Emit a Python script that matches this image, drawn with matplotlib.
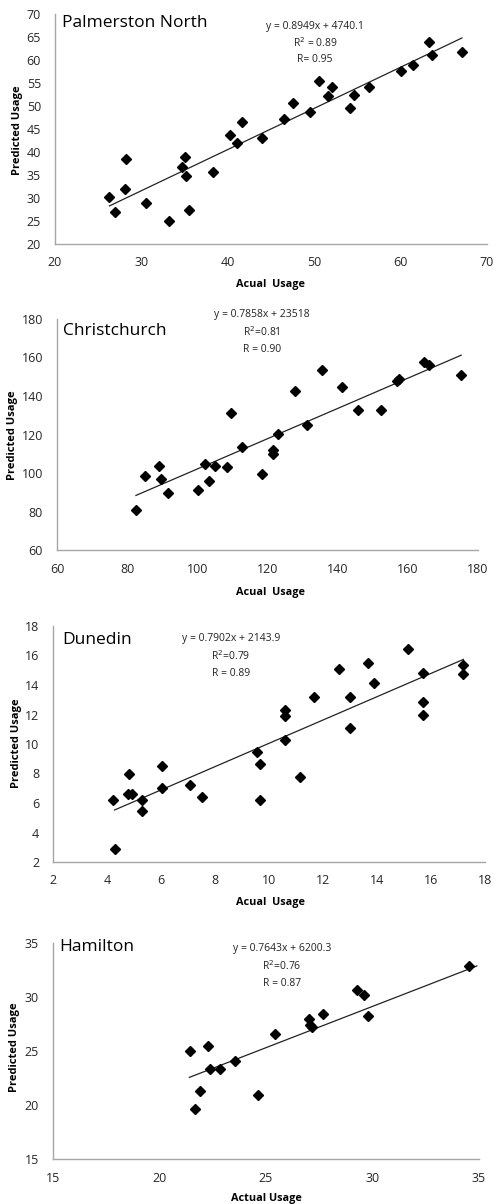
import matplotlib
matplotlib.use('Agg')
import matplotlib.pyplot as plt
import numpy as np

plt.rcParams['font.family'] = ['Open Sans', 'DejaVu Sans']

# ---- data (usage in thousands) ----
pn_x = [26.3, 26.9, 28.2, 28.1, 30.5, 33.2, 34.7, 35.0, 35.2, 35.5, 38.3, 40.2, 41.1, 41.6,
        44.0, 46.5, 47.6, 49.5, 50.5, 51.6, 52.1, 54.1, 54.6, 56.3, 60.1, 61.4, 63.3, 63.6, 67.1]
pn_y = [30.2, 27.0, 38.4, 31.9, 29.0, 25.1, 36.8, 38.9, 34.7, 27.4, 35.6, 43.8, 41.9, 46.6,
        43.0, 47.2, 50.7, 48.7, 55.5, 52.1, 54.1, 49.6, 52.3, 54.2, 57.5, 59.0, 63.9, 61.0, 61.7]

ch_x = [82.5, 85.0, 89.0, 89.6, 91.6, 100.3, 102.1, 103.3, 105.1, 108.5, 109.6, 112.6, 118.4,
        121.6, 121.6, 123.1, 127.8, 131.3, 135.6, 141.3, 145.7, 152.3, 156.8, 157.4, 164.7, 166.1, 175.2]
ch_y = [81.0, 98.3, 103.8, 96.9, 89.6, 91.2, 104.9, 95.7, 103.5, 103.3, 131.2, 113.7, 99.5,
        112.1, 109.9, 120.3, 142.6, 125.1, 153.7, 144.9, 132.7, 132.7, 148.0, 149.0, 157.7, 156.1, 150.7]

du_x = [4.28, 4.23, 4.80, 4.79, 4.94, 5.28, 5.28, 6.02, 6.02, 7.07, 7.53, 9.55, 9.65, 9.65,
        10.61, 10.61, 10.61, 11.13, 11.66, 12.61, 12.99, 12.99, 13.67, 13.89, 15.13, 15.69, 15.69,
        15.69, 17.2, 17.2]
du_y = [2.86, 6.23, 7.95, 6.64, 6.64, 6.23, 5.44, 8.52, 7.02, 7.23, 6.44, 9.44, 8.65, 6.23,
        12.32, 11.87, 10.24, 7.73, 13.16, 15.08, 13.22, 11.07, 15.47, 14.11, 16.44, 14.81, 12.86,
        12.0, 15.37, 14.74]

ha_x = [21.43, 21.69, 21.88, 22.27, 22.37, 22.82, 23.55, 24.63, 25.43, 27.01, 27.07, 27.17,
        27.68, 29.25, 29.6, 29.79, 34.55]
ha_y = [24.98, 19.61, 21.28, 25.5, 23.35, 23.32, 24.12, 20.9, 26.56, 27.98, 27.43, 27.21,
        28.45, 30.61, 30.18, 28.23, 32.84]

titles = ['Palmerston North', 'Christchurch', 'Dunedin', 'Hamilton']
slopes = [0.8949, 0.7858, 0.7902, 0.7643]
intercepts = [4740.1, 23518, 2143.9, 6200.3]
r2_text = ['R$^2$ = 0.89', 'R$^2$=0.81', 'R$^2$=0.79', 'R$^2$=0.76']
r_text = ['R= 0.95', 'R = 0.90', 'R = 0.89', 'R = 0.87']
eq_text = ['y = 0.8949x + 4740.1', 'y = 0.7858x + 23518', 'y = 0.7902x + 2143.9', 'y = 0.7643x + 6200.3']
line_ends = [(26.3, 67.1), (82.5, 175.2), (4.28, 17.2), (21.4, 34.9)]
xlims = [(20, 70), (60, 180), (2, 18), (15, 35)]
ylims = [(20, 70), (60, 180), (2, 18), (15, 35)]
xsteps = [10, 20, 2, 5]
ysteps = [5, 20, 2, 5]
xlabels = ['Acual  Usage', 'Acual  Usage', 'Acual  Usage', 'Actual Usage']

datasets = [(pn_x, pn_y), (ch_x, ch_y), (du_x, du_y), (ha_x, ha_y)]

# ---- layout in pixels (left, right, top, bottom of plot area) ----
W, H = 494, 1204
boxes = [(55, 487, 14, 244), (57, 478, 319, 550), (53, 485, 626, 862), (53, 479, 943, 1159)]
title_pos = [(62, 23), (63, 331), (62, 640), (59, 947)]
note_pos = [(315, 26), (262, 315), (231, 639), (282, 949)]
xlab_pos = [(270, 285), (270, 593), (270, 902), (266, 1198)]
ylab_pos = [(18, 130), (13, 435), (17, 743), (14, 1047)]

fig = plt.figure(figsize=(W / 100, H / 100), dpi=100)

for i in range(4):
    l, r, t, b = boxes[i]
    ax = fig.add_axes([l / W, 1 - b / H, (r - l) / W, (b - t) / H])
    x, y = datasets[i]
    ax.plot(x, y, 'D', color='black', markersize=4.8, zorder=3)
    lx = np.array(line_ends[i])
    ax.plot(lx, slopes[i] * lx + intercepts[i] / 1000, color='#222222', lw=0.9, zorder=2)

    ax.set_xlim(*xlims[i])
    ax.set_ylim(*ylims[i])
    ax.set_xticks(np.arange(xlims[i][0], xlims[i][1] + 0.01, xsteps[i]))
    ax.set_yticks(np.arange(ylims[i][0], ylims[i][1] + 0.01, ysteps[i]))
    ax.tick_params(length=0, labelsize=9, labelcolor='#262626')
    ax.tick_params(axis='x', pad=9)
    ax.tick_params(axis='y', pad=10)
    for s in ['top', 'right']:
        ax.spines[s].set_visible(False)
    for s in ['left', 'bottom']:
        ax.spines[s].set_color('#a6a6a6')
        ax.spines[s].set_linewidth(1.0)
    ax.patch.set_alpha(0)

    tx, ty = title_pos[i]
    fig.text(tx / W, 1 - ty / H, titles[i], fontsize=12.5, va='center', ha='left')
    nx, ny = note_pos[i]
    for k, txt in enumerate([eq_text[i], r2_text[i], r_text[i]]):
        fig.text(nx / W, 1 - (ny + 17 * k) / H, txt, fontsize=7.5, ha='center', va='center',
                 color='#222222')
    xx, xy = xlab_pos[i]
    fig.text(xx / W, 1 - xy / H, xlabels[i], fontsize=7.8, fontweight='bold', ha='center', va='center')
    yx, yy = ylab_pos[i]
    fig.text(yx / W, 1 - yy / H, 'Predicted Usage', fontsize=8, fontweight='bold', rotation=90,
             ha='center', va='center')

fig.savefig('out.png', dpi=100)
